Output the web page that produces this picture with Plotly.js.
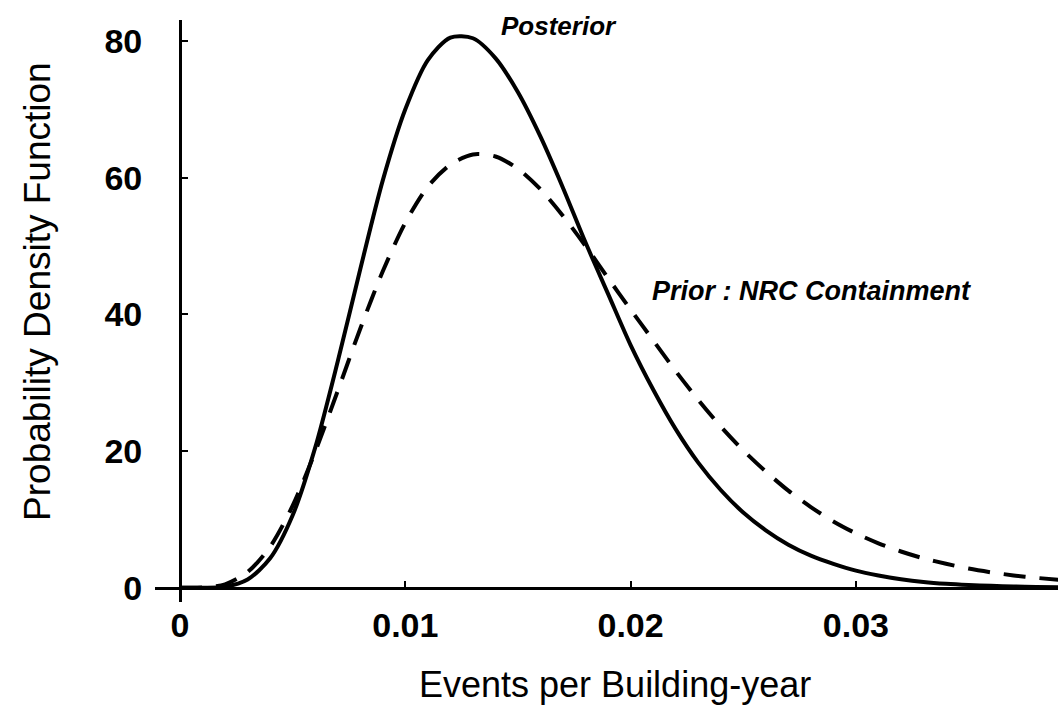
<!DOCTYPE html>
<html>
<head>
<meta charset="utf-8">
<script src="https://cdn.plot.ly/plotly-3.0.1.min.js"></script>
<style>html,body{margin:0;padding:0;background:#fff;}#chart{width:1060px;height:715px;}</style>
</head>
<body>
<div id="chart"></div>
<script>
// Events per building-year
const eventsPerYear = [0.000, 0.001, 0.002, 0.003, 0.004, 0.005, 0.006, 0.007, 0.008, 0.009,
  0.010, 0.011, 0.012, 0.013, 0.014, 0.015, 0.016, 0.017, 0.018, 0.019,
  0.020, 0.021, 0.022, 0.023, 0.024, 0.025, 0.026, 0.027, 0.028, 0.029,
  0.030, 0.031, 0.032, 0.033, 0.034, 0.035, 0.036, 0.037, 0.038, 0.039];
// Posterior density (solid)
const posterior = [0, 0, 0.15, 1.2, 4.3, 10.6, 20.5, 33.1, 46.6, 59.6,
  70.0, 77.2, 80.5, 80.4, 77.5, 72.5, 66.0, 58.5, 50.5, 43.0,
  35.5, 29.0, 23.2, 18.3, 14.3, 11.0, 8.4, 6.3, 4.7, 3.5,
  2.5, 1.8, 1.25, 0.85, 0.58, 0.40, 0.27, 0.18, 0.12, 0.08];
// Prior: NRC Containment density (dashed)
const prior = [0, 0.03, 0.5, 2.3, 6.0, 12.0, 19.9, 28.8, 37.9, 46.3,
  53.4, 58.7, 61.9, 63.4, 63.1, 61.3, 58.3, 54.4, 50.0, 45.3,
  40.7, 36.2, 31.7, 27.5, 23.6, 20.1, 17.0, 14.2, 11.8, 9.7,
  7.95, 6.5, 5.3, 4.3, 3.5, 2.8, 2.25, 1.8, 1.45, 1.15];
const xTickVals = [0, 0.01, 0.02, 0.03];
const xTickText = ["0", "0.01", "0.02", "0.03"];
const yTickVals = [0, 20, 40, 60, 80];
const yTickText = ["0", "20", "40", "60", "80"];

const xRange = [-0.00111, 0.03897];
const yRange = [-2.09, 83.07];

const traces = [
  {x: eventsPerYear, y: posterior, type: 'scatter', mode: 'lines', name: 'Posterior',
   line: {color: '#000', width: 4, shape: 'spline', smoothing: 0.8}},
  {x: eventsPerYear, y: prior, type: 'scatter', mode: 'lines', name: 'Prior : NRC Containment',
   line: {color: '#000', width: 4, shape: 'spline', smoothing: 0.8, dash: '22px,14px'}}
];

const fam = 'Liberation Sans, Arial, sans-serif';
const layout = {
  width: 1060, height: 715,
  margin: {l: 155, r: 2, t: 20, b: 113},
  paper_bgcolor: '#fff', plot_bgcolor: '#fff',
  showlegend: false,
  font: {family: fam, color: '#000'},
  xaxis: {
    range: xRange, anchor: 'free', position: (0 - yRange[0]) / (yRange[1] - yRange[0]),
    tickvals: xTickVals, ticktext: xTickText,
    ticks: 'inside', ticklen: 6, tickwidth: 2, tickcolor: '#000',
    showline: true, linecolor: '#000', linewidth: 3,
    showgrid: false, zeroline: false,
    tickfont: {family: fam, size: 34, color: '#000', weight: 'bold'},
    ticklabelstandoff: 6
  },
  yaxis: {
    range: yRange, anchor: 'free', position: (0 - xRange[0]) / (xRange[1] - xRange[0]),
    tickvals: yTickVals, ticktext: yTickText,
    ticks: 'inside', ticklen: 6, tickwidth: 2, tickcolor: '#000',
    showline: true, linecolor: '#000', linewidth: 3,
    showgrid: false, zeroline: false,
    tickfont: {family: fam, size: 34, color: '#000', weight: 'bold'},
    ticklabelstandoff: 30
  },
  annotations: [
    {x: 0.01682, y: 82.2, xref: 'x', yref: 'y', text: '<b><i>Posterior</i></b>', showarrow: false,
     font: {family: fam, size: 26, color: '#000'}},
    {x: 0.02801, y: 43.4, xref: 'x', yref: 'y', text: '<b><i>Prior : NRC Containment</i></b>', showarrow: false,
     font: {family: fam, size: 27, color: '#000'}},
    {x: 0.5094, y: -0.1426, xref: 'paper', yref: 'paper', xanchor: 'center', yanchor: 'middle',
     text: 'Events per Building-year', showarrow: false, font: {family: fam, size: 36, color: '#000'}},
    {x: -0.1296, y: 0.5344, xref: 'paper', yref: 'paper', xanchor: 'center', yanchor: 'middle', textangle: -90,
     text: 'Probability Density Function', showarrow: false, font: {family: fam, size: 37, color: '#000'}}
  ]
};

Plotly.newPlot('chart', traces, layout, {displayModeBar: false, staticPlot: true});
</script>
</body>
</html>
